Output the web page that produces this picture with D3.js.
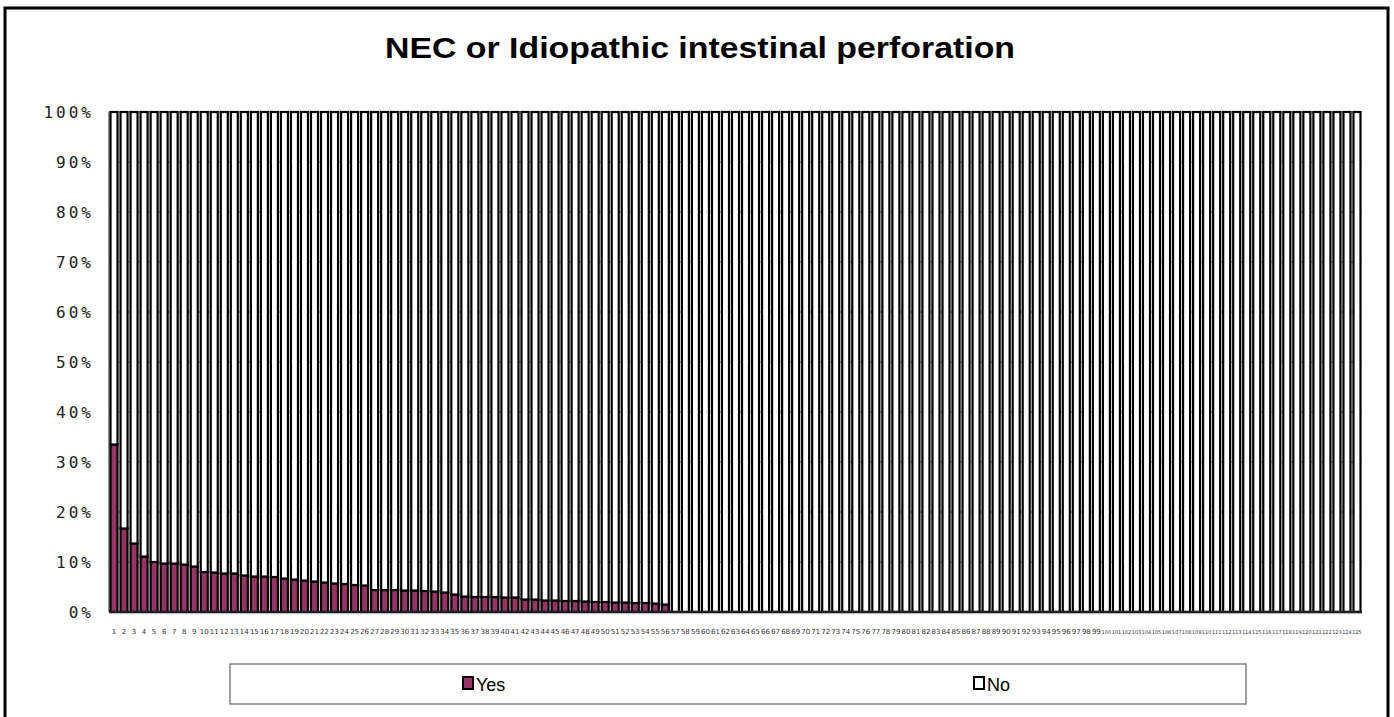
<!DOCTYPE html>
<html><head><meta charset="utf-8">
<script src="https://cdn.jsdelivr.net/npm/d3@7"></script>
<style>body{margin:0;background:#fff}svg{display:block}</style>
</head><body>
<svg id="c" width="1394" height="717"></svg>
<script>
const categories = d3.range(1, 126).map(String);
const yesValues = [33.5,16.7,13.7,11.1,10.0,9.7,9.7,9.5,9.1,8.0,7.9,7.7,7.7,7.3,7.1,7.1,7.0,6.7,6.5,6.3,6.1,5.9,5.7,5.6,5.4,5.3,4.4,4.4,4.4,4.3,4.3,4.2,4.1,3.9,3.5,3.1,3.0,3.0,3.0,2.9,2.9,2.5,2.5,2.3,2.3,2.2,2.2,2.1,2.0,2.0,1.9,1.9,1.8,1.8,1.7,1.5].concat(d3.range(69).map(() => 0));
const noValues = yesValues.map(v => 100 - v);
const seriesNames = ["Yes", "No"];
const yTicks = [0,10,20,30,40,50,60,70,80,90,100];
const title = "NEC or Idiopathic intestinal perforation";
const colors = {Yes: "#993366", No: "#ffffff"};

const svg = d3.select("#c");
svg.append("rect").attr("x",5).attr("y",8).attr("width",1383).attr("height",730)
  .attr("fill","#fff").attr("stroke","#000").attr("stroke-width",3);

svg.append("text").attr("x",700).attr("y",58).attr("text-anchor","middle")
  .attr("font-family","Liberation Sans Narrow, Liberation Sans, Arial, sans-serif").attr("font-weight","bold")
  .attr("font-size",29).attr("textLength",630).attr("lengthAdjust","spacingAndGlyphs")
  .text(title);

const L = 109, R = 1362, T = 112, B = 612;
const x = d3.scaleBand().domain(categories).range([L, R]).paddingInner(0.3).paddingOuter(0.15);
const y = d3.scaleLinear().domain([0, 100]).range([B, T]);

// gridlines
svg.append("g").selectAll("line").data(yTicks.filter(t => t > 0)).join("line")
  .attr("x1", L).attr("x2", R).attr("y1", d => y(d)).attr("y2", d => y(d))
  .attr("stroke", "#777").attr("stroke-width", 1);

const rows = categories.map((c, i) => ({cat: c, Yes: yesValues[i], No: noValues[i]}));
const stacked = d3.stack().keys(seriesNames)(rows);

svg.append("g").selectAll("g").data(stacked).join("g")
  .attr("fill", d => colors[d.key])
  .selectAll("rect").data(d => d.filter(p => p[1] - p[0] > 0)).join("rect")
  .attr("x", d => x(d.data.cat)).attr("width", x.bandwidth())
  .attr("y", d => y(d[1])).attr("height", d => y(d[0]) - y(d[1]))
  .attr("stroke", "#000").attr("stroke-width", 2.2);

// axes lines
svg.append("line").attr("x1", L).attr("x2", R).attr("y1", B).attr("y2", B).attr("stroke", "#222").attr("stroke-width", 2.5);
svg.append("line").attr("x1", L).attr("x2", L).attr("y1", T).attr("y2", B).attr("stroke", "#222").attr("stroke-width", 1);

// y labels
svg.append("g").selectAll("text").data(yTicks).join("text")
  .attr("x", 94).attr("y", d => y(d) + 6).attr("text-anchor", "end")
  .attr("font-family", "DejaVu Sans Mono, monospace").attr("font-size", 16)
  .attr("letter-spacing", 3).attr("fill", "#222")
  .text(d => d + "%");

// x labels
svg.append("g").selectAll("text").data(categories).join("text")
  .attr("x", d => x(d) + x.bandwidth() / 2).attr("y", 634).attr("text-anchor", "middle")
  .attr("font-family", "DejaVu Sans, sans-serif")
  .attr("font-size", d => d.length > 2 ? 5 : 7).attr("fill", "#333")
  .text(d => d);

// legend
svg.append("rect").attr("x", 230).attr("y", 664).attr("width", 1016).attr("height", 40)
  .attr("fill", "#fff").attr("stroke", "#808080").attr("stroke-width", 1.5);
const legX = {Yes: 463, No: 974};
seriesNames.forEach(k => {
  svg.append("rect").attr("x", legX[k]).attr("y", 677).attr("width", 10).attr("height", 12)
    .attr("fill", colors[k]).attr("stroke", "#000").attr("stroke-width", 2);
  svg.append("text").attr("x", legX[k] + 13).attr("y", 691)
    .attr("font-family", "Liberation Sans Narrow, Liberation Sans, Arial, sans-serif")
    .attr("font-size", 18).attr("fill", "#000").text(k);
});
</script>
</body></html>
